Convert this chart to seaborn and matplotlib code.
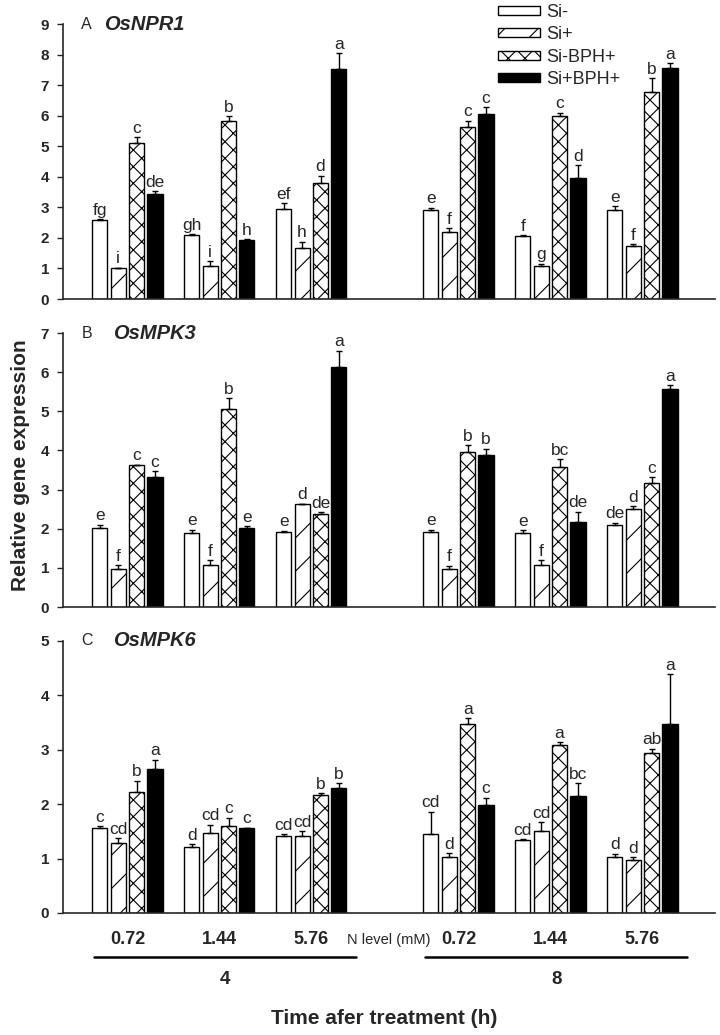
import pandas as pd
import matplotlib
matplotlib.use("Agg")
import matplotlib.pyplot as plt
import matplotlib.transforms as mtransforms
from matplotlib.lines import Line2D
import seaborn as sns

# treatments and grouping
treatments = ["Si-", "Si+", "Si-BPH+", "Si+BPH+"]
n_levels = ["0.72", "1.44", "5.76"]
hours = ["4", "8"]

# each row = one group (4 h: 0.72, 1.44, 5.76 then 8 h: 0.72, 1.44, 5.76)
# columns = Si-, Si+, Si-BPH+, Si+BPH+
npr1_mean = [[2.59, 1.01, 5.12, 3.44], [2.09, 1.07, 5.84, 1.93], [2.94, 1.68, 3.81, 7.52],
             [2.92, 2.19, 5.64, 6.07], [2.05, 1.07, 6.00, 3.97], [2.91, 1.75, 6.79, 7.55]]
npr1_err = [[0.03, 0.02, 0.17, 0.09], [0.04, 0.17, 0.15, 0.03], [0.20, 0.20, 0.22, 0.52],
            [0.07, 0.12, 0.20, 0.20], [0.04, 0.09, 0.10, 0.40], [0.13, 0.05, 0.44, 0.16]]
npr1_sig = [["fg", "i", "c", "de"], ["gh", "i", "b", "h"], ["ef", "h", "d", "a"],
            ["e", "f", "c", "c"], ["f", "g", "c", "d"], ["e", "f", "b", "a"]]

mpk3_mean = [[2.03, 0.98, 3.63, 3.32], [1.90, 1.08, 5.06, 2.03], [1.91, 2.63, 2.38, 6.13],
             [1.91, 0.97, 3.97, 3.88], [1.89, 1.07, 3.58, 2.18], [2.09, 2.50, 3.17, 5.56]]
mpk3_err = [[0.07, 0.09, 0.01, 0.15], [0.08, 0.11, 0.27, 0.03], [0.04, 0.01, 0.05, 0.42],
            [0.07, 0.09, 0.17, 0.17], [0.08, 0.13, 0.20, 0.26], [0.06, 0.07, 0.15, 0.11]]
mpk3_sig = [["e", "f", "c", "c"], ["e", "f", "b", "e"], ["e", "d", "de", "a"],
            ["e", "f", "b", "b"], ["e", "f", "bc", "de"], ["de", "d", "c", "a"]]

mpk6_mean = [[1.56, 1.28, 2.22, 2.64], [1.21, 1.47, 1.59, 1.57], [1.41, 1.42, 2.16, 2.29],
             [1.45, 1.03, 3.48, 1.99], [1.34, 1.51, 3.08, 2.15], [1.03, 0.98, 2.94, 3.47]]
mpk6_err = [[0.03, 0.10, 0.21, 0.18], [0.05, 0.15, 0.16, 0.00], [0.04, 0.08, 0.04, 0.10],
            [0.41, 0.07, 0.10, 0.13], [0.02, 0.16, 0.06, 0.24], [0.06, 0.05, 0.08, 0.92]]
mpk6_sig = [["c", "cd", "b", "a"], ["d", "cd", "c", "c"], ["cd", "cd", "b", "b"],
            ["cd", "d", "a", "c"], ["cd", "cd", "a", "bc"], ["d", "d", "ab", "a"]]

sns.set_style("ticks")
plt.rcParams["font.family"] = ["Liberation Sans", "DejaVu Sans"]
plt.rcParams["hatch.linewidth"] = 0.8

colors = ["white", "white", "white", "black"]
hatches = ["", "/", "xx", ""]

fig = plt.figure(figsize=(7.2, 10.35), dpi=100)
# group positions: gap of 0.6 between 4 h and 8 h
group_pos = [g + (0.6 if g >= 3 else 0) for g in range(6)]

panels = [
    ("A", "OsNPR1", npr1_mean, npr1_err, npr1_sig, 9, [0.0875, 0.7111, 0.9056, 0.2657]),
    ("B", "OsMPK3", mpk3_mean, mpk3_err, mpk3_sig, 7, [0.0875, 0.4135, 0.9056, 0.2647]),
    ("C", "OsMPK6", mpk6_mean, mpk6_err, mpk6_sig, 5, [0.0875, 0.1179, 0.9056, 0.2628]),
]

for letter, gene, means, errs, sigs, ymax, rect in panels:
    ax = fig.add_axes(rect)
    rows = []
    for g in range(6):
        for t, tr in enumerate(treatments):
            rows.append({"pos": group_pos[g], "treatment": tr, "value": means[g][t]})
    df = pd.DataFrame(rows)
    sns.barplot(data=df, x="pos", y="value", hue="treatment", hue_order=treatments,
                native_scale=True, palette=colors, edgecolor="black", linewidth=1,
                errorbar=None, gap=0.18, width=0.8, legend=False, ax=ax)
    bars = list(ax.containers)
    for t, cont in enumerate(bars):
        patches = sorted(cont.patches, key=lambda p: p.get_x())
        for g, p in enumerate(patches):
            p.set_hatch(hatches[t])
            x = p.get_x() + p.get_width() / 2
            y = p.get_height()
            e = errs[g][t]
            ax.errorbar(x, y, yerr=[[0], [e]], fmt="none", ecolor="black",
                        elinewidth=1, capsize=2.5, capthick=1)
            ax.annotate(sigs[g][t], (x, y + e), xytext=(0, 1), textcoords="offset points",
                        ha="center", va="bottom", fontsize=12.5)
    ax.set_xlim(-0.70, 6.39)
    ax.set_ylim(0, ymax)
    ax.set_yticks(range(ymax + 1))
    ax.set_yticklabels([str(v) for v in range(ymax + 1)], fontweight="bold", fontsize=11)
    ax.set_xticks([])
    ax.set_xlabel("")
    ax.set_ylabel("")
    ax.tick_params(axis="y", length=4, width=1, direction="out", pad=6)
    sns.despine(ax=ax)
    for s in ["left", "bottom"]:
        ax.spines[s].set_linewidth(1.2)
    ax.text(0.028, 1.0, letter, transform=ax.transAxes, fontsize=11.5, va="center", ha="left")
    gx = 0.063 if letter == "A" else 0.077
    ax.text(gx, 1.0, gene, transform=ax.transAxes, fontsize=14.5, fontweight="bold",
            fontstyle="italic", va="center", ha="left")

    if letter == "A":
        handles = [cont.patches[0] for cont in bars]
        fig.legend(handles=handles, labels=treatments, loc="upper left",
                   bbox_to_anchor=(0.6917, 0.996), frameon=False, fontsize=13,
                   handlelength=2.33, handleheight=0.4, labelspacing=0.29,
                   handletextpad=0.35, borderpad=0, borderaxespad=0)
    if letter == "C":
        trans = mtransforms.blended_transform_factory(ax.transData, fig.transFigure)
        for h in range(2):
            idx = [h * 3 + k for k in range(3)]
            for k, gi in enumerate(idx):
                ax.text(group_pos[gi], 0.0918, n_levels[k], transform=trans, ha="center",
                        va="center", fontsize=13, fontweight="bold")
            x0 = group_pos[idx[0]] - 0.36
            x1 = group_pos[idx[2]] + 0.49
            fig.add_artist(Line2D([x0, x1], [0.0754, 0.0754], transform=trans,
                                  color="black", linewidth=1.8))
            ax.text((x0 + x1) / 2, 0.054, hours[h], transform=trans, ha="center",
                    va="center", fontsize=13.5, fontweight="bold")
        ax.text((group_pos[2] + group_pos[3]) / 2 + 0.04, 0.0918, "N level (mM)",
                transform=trans, ha="center", va="center", fontsize=10.5)

fig.text(0.028, 0.551, "Relative gene expression", rotation=90, ha="center", va="center",
         fontsize=15, fontweight="bold")
fig.text(0.533, 0.0164, "Time afer treatment (h)", ha="center", va="center",
         fontsize=15, fontweight="bold")

fig.savefig("out.png", dpi=100)
